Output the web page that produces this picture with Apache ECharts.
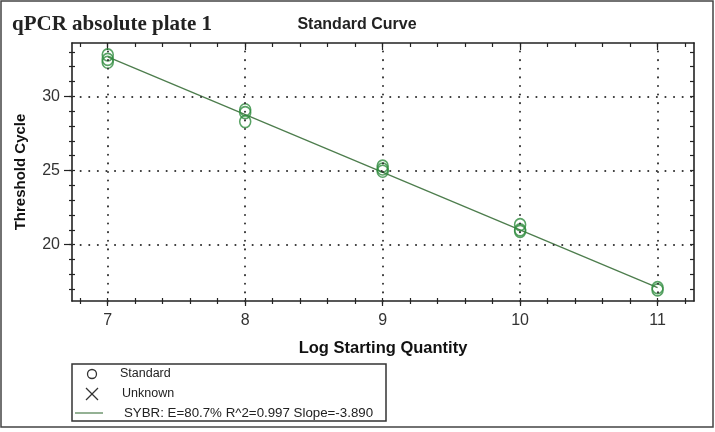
<!DOCTYPE html>
<html>
<head>
<meta charset="utf-8">
<script src="https://cdn.jsdelivr.net/npm/echarts@6/dist/echarts.min.js"></script>
<style>
  html, body { margin: 0; padding: 0; background: #fff; }
  #chart { width: 715px; height: 432px; }
</style>
</head>
<body>
<div id="chart"></div>
<script>
// Axis ranges
const xMin = 6.74, xMax = 11.265;
const yMin = 16.2, yMax = 33.6;

// Tick positions
const xMajorTicks = [7, 8, 9, 10, 11];
const xMinorTicks = [6.8, 7.0, 7.2, 7.4, 7.6, 7.8, 8.0, 8.2, 8.4, 8.6, 8.8, 9.0, 9.2, 9.4, 9.6, 9.8,
                     10.0, 10.2, 10.4, 10.6, 10.8, 11.0, 11.2];
const yMajorTicks = [20, 25, 30];
const yMinorTicks = [17, 18, 19, 20, 21, 22, 23, 24, 25, 26, 27, 28, 29, 30, 31, 32, 33];

// Standard wells: log starting quantity and threshold cycle
const stdLogQty = [7, 7, 7, 8, 8, 8, 9, 9, 9, 10, 10, 10, 11, 11];
const stdCt = [32.8, 32.5, 32.3, 29.1, 28.9, 28.3, 25.3, 25.1, 24.95, 21.35, 21.0, 20.9, 17.1, 16.95];

// Regression line end points
const fitLogQty = [7, 11];
const fitCt = [32.66, 17.1];

// Text
const plateTitle = 'qPCR absolute plate 1';
const chartTitle = 'Standard Curve';
const xName = 'Log Starting Quantity';
const yName = 'Threshold Cycle';
const legendStandard = 'Standard';
const legendUnknown = 'Unknown';
const legendFit = 'SYBR: E=80.7% R^2=0.997 Slope=-3.890';

const ink = '#222';
const pointGreen = '#2f8c3e';
const fitGreen = '#4d7d4d';
const sans = '"Liberation Sans", Arial, sans-serif';

const chart = echarts.init(document.getElementById('chart'), null, { renderer: 'canvas' });

function hiddenLabel() { return { show: false }; }

function xAxisBase(extra) {
  return Object.assign({
    type: 'value', min: xMin, max: xMax, gridIndex: 0,
    axisLine: { show: false, onZero: false },
    axisLabel: hiddenLabel(),
    splitLine: { show: false }
  }, extra);
}
function yAxisBase(extra) {
  return Object.assign({
    type: 'value', min: yMin, max: yMax, gridIndex: 0,
    axisLine: { show: false, onZero: false },
    axisLabel: hiddenLabel(),
    splitLine: { show: false }
  }, extra);
}
const tickStyle = { color: ink, width: 1.2 };

const option = {
  backgroundColor: '#fff',
  animation: false,
  grid: { left: 72, right: 21, top: 43, bottom: 131, containLabel: false, outerBoundsMode: 'none' },
  xAxis: [
    xAxisBase({
      position: 'bottom',
      axisLine: { show: true, onZero: false, lineStyle: { color: ink, width: 1.6 } },
      axisTick: { show: true, customValues: xMajorTicks, inside: false, length: 5, lineStyle: tickStyle },
      axisLabel: { show: true, customValues: xMajorTicks, margin: 12, fontSize: 16, color: '#333', fontFamily: sans },
      name: xName, nameLocation: 'middle', nameGap: 39,
      nameTextStyle: { fontWeight: 'bold', fontSize: 16.5, color: '#111', fontFamily: sans }
    }),
    xAxisBase({ position: 'bottom', axisTick: { show: true, customValues: xMinorTicks, inside: true, length: 3, lineStyle: tickStyle } }),
    xAxisBase({ position: 'bottom', axisTick: { show: true, customValues: xMinorTicks, inside: false, length: 3, lineStyle: tickStyle } }),
    xAxisBase({
      position: 'top',
      axisLine: { show: true, onZero: false, lineStyle: { color: ink, width: 1.6 } },
      axisTick: { show: true, customValues: xMinorTicks, inside: true, length: 4, lineStyle: tickStyle }
    }),
    xAxisBase({ position: 'top', axisTick: { show: true, customValues: xMajorTicks, inside: true, length: 7, lineStyle: tickStyle } })
  ],
  yAxis: [
    yAxisBase({
      position: 'left',
      axisLine: { show: true, onZero: false, lineStyle: { color: ink, width: 1.6 } },
      axisTick: { show: true, customValues: yMajorTicks, inside: false, length: 8, lineStyle: tickStyle },
      axisLabel: { show: true, customValues: yMajorTicks, margin: 12, fontSize: 16, color: '#333', fontFamily: sans },
      name: yName, nameLocation: 'middle', nameGap: 44, nameRotate: 90,
      nameTextStyle: { fontWeight: 'bold', fontSize: 15, color: '#111', fontFamily: sans }
    }),
    yAxisBase({ position: 'left', axisTick: { show: true, customValues: yMinorTicks, inside: false, length: 3, lineStyle: tickStyle } }),
    yAxisBase({ position: 'left', axisTick: { show: true, customValues: yMinorTicks, inside: true, length: 3, lineStyle: tickStyle } }),
    yAxisBase({
      position: 'right',
      axisLine: { show: true, onZero: false, lineStyle: { color: ink, width: 1.6 } },
      axisTick: { show: true, customValues: yMinorTicks, inside: true, length: 4, lineStyle: tickStyle }
    })
  ],
  series: [
    {
      // dotted grid at the labelled ticks
      type: 'line', data: [], silent: true,
      markLine: {
        silent: true, symbol: ['none', 'none'], label: { show: false },
        lineStyle: { color: '#333', width: 2, type: [0.1, 8.5], cap: 'round' },
        data: xMajorTicks.map(v => ({ xAxis: v })).concat(yMajorTicks.map(v => ({ yAxis: v })))
      }
    },
    {
      name: 'SYBR', type: 'line', symbol: 'none', silent: true,
      data: fitLogQty.map((x, i) => [x, fitCt[i]]),
      lineStyle: { color: fitGreen, width: 1.3 }, z: 3
    },
    {
      name: legendStandard, type: 'scatter', symbol: 'circle', symbolSize: [11, 12],
      data: stdLogQty.map((x, i) => [x, stdCt[i]]),
      itemStyle: { color: 'rgba(0,0,0,0)', borderColor: pointGreen, borderWidth: 1.6 }, z: 4
    }
  ],
  graphic: [
    // outer frame
    { type: 'rect', shape: { x: 1, y: 1, width: 712, height: 426 }, style: { fill: 'none', stroke: '#444', lineWidth: 1.5 }, silent: true },
    { type: 'text', style: { text: plateTitle, x: 12, y: 25, font: 'bold 21px "Liberation Serif", "Times New Roman", serif', fill: '#222', textVerticalAlign: 'middle' } },
    { type: 'text', style: { text: chartTitle, x: 357, y: 25, font: 'bold 16px ' + sans, fill: '#222', textAlign: 'center', textVerticalAlign: 'middle' } },
    // legend box
    { type: 'rect', shape: { x: 72, y: 364, width: 314, height: 57 }, style: { fill: '#fff', stroke: '#333', lineWidth: 1.5 }, silent: true },
    { type: 'circle', shape: { cx: 92, cy: 374, r: 4.5 }, style: { fill: 'none', stroke: '#333', lineWidth: 1.3 } },
    { type: 'line', shape: { x1: 86, y1: 388, x2: 98, y2: 400 }, style: { stroke: '#333', lineWidth: 1.2 } },
    { type: 'line', shape: { x1: 98, y1: 388, x2: 86, y2: 400 }, style: { stroke: '#333', lineWidth: 1.2 } },
    { type: 'line', shape: { x1: 75, y1: 413, x2: 103, y2: 413 }, style: { stroke: fitGreen, lineWidth: 1.2 } },
    { type: 'text', style: { text: legendStandard, x: 120, y: 374, font: '12.5px ' + sans, fill: '#222', textVerticalAlign: 'middle' } },
    { type: 'text', style: { text: legendUnknown, x: 122, y: 394, font: '12.5px ' + sans, fill: '#222', textVerticalAlign: 'middle' } },
    { type: 'text', style: { text: legendFit, x: 124, y: 413, font: '13.3px ' + sans, fill: '#222', textVerticalAlign: 'middle' } }
  ]
};

chart.setOption(option);
</script>
</body>
</html>
